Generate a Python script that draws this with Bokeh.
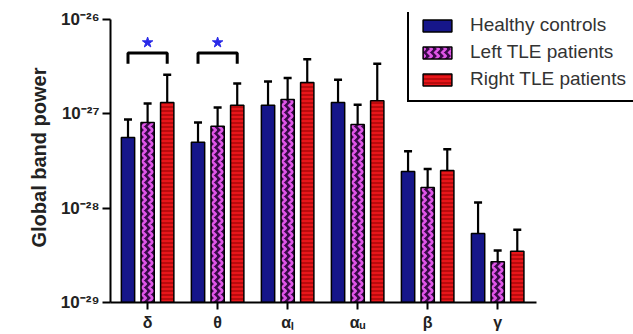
from bokeh.plotting import figure
from bokeh.models import (ColumnDataSource, Range1d, FixedTicker, Whisker, TeeHead,
                          Legend, LegendItem, CustomJSTickFormatter)
from bokeh.embed import file_html
from bokeh.resources import INLINE
from bokeh.core.properties import value

bands = ["δ", "θ", "αₗ", "αᵤ", "β", "γ"]
groups = ["Healthy controls", "Left TLE patients", "Right TLE patients"]
healthy = [5.6e-28, 5.0e-28, 1.23e-27, 1.32e-27, 2.45e-28, 5.4e-29]
healthy_err = [8.7e-28, 8.1e-28, 2.2e-27, 2.3e-27, 4.0e-28, 1.15e-28]
left_tle = [8.1e-28, 7.4e-28, 1.42e-27, 7.7e-28, 1.66e-28, 2.7e-29]
left_err = [1.29e-27, 1.17e-27, 2.4e-27, 1.25e-27, 2.6e-28, 3.55e-29]
right_tle = [1.32e-27, 1.23e-27, 2.15e-27, 1.38e-27, 2.5e-28, 3.5e-29]
right_err = [2.6e-27, 2.1e-27, 3.8e-27, 3.4e-27, 4.2e-28, 5.9e-29]
y_ticks = [1e-29, 1e-28, 1e-27, 1e-26]
y_tick_labels = ["10⁻²⁹", "10⁻²⁸", "10⁻²⁷", "10⁻²⁶"]
sig_bands = ["δ", "θ"]          # healthy vs right TLE significant
sig_level = 4.4e-27
sig_drop = 3.4e-27
sig_star = 5.7e-27

BASE = 1e-29
offsets = [-0.28, 0.0, 0.28]
bar_w = 0.19

p = figure(width=633, height=334, output_backend="svg", toolbar_location=None,
           y_axis_type="log", x_range=Range1d(-0.53, 6.94), y_range=Range1d(1e-29, 1.186e-26),
           min_border_left=110, min_border_right=0, min_border_top=12, min_border_bottom=32)
p.outline_line_color = None
p.xgrid.visible = False
p.ygrid.visible = False
p.background_fill_color = "white"

xs = list(range(len(bands)))
series = [(healthy, healthy_err), (left_tle, left_err), (right_tle, right_err)]
styles = [
    dict(fill_color="#16168a", hatch_pattern=None),
    dict(fill_color="#3a0a4a", hatch_pattern="vertical_wave", hatch_color="#e055e8",
         hatch_scale=7, hatch_weight=2.5),
    dict(fill_color="#e8161a", hatch_pattern="horizontal_line", hatch_color="#8a0000",
         hatch_scale=4, hatch_weight=1),
]
renderers = []
for (vals, errs), off, st in zip(series, offsets, styles):
    src = ColumnDataSource(dict(x=[i + off for i in xs], top=vals, err=errs,
                                bottom=[BASE] * len(vals)))
    kw = {k: v for k, v in st.items() if v is not None}
    r = p.vbar(x="x", top="top", bottom="bottom", width=bar_w, source=src,
               line_color="black", line_width=1.5, **kw)
    renderers.append(r)
    w = Whisker(base="x", lower="top", upper="err", source=src, dimension="height",
                line_color="black", line_width=2.2,
                upper_head=TeeHead(size=8, line_width=2.5, line_color="black"),
                lower_head=None)
    p.add_layout(w)

# significance brackets
bx, by = [], []
sx, sy = [], []
for b in sig_bands:
    i = bands.index(b)
    l, r_ = i + offsets[0], i + offsets[2]
    bx.append([l, l, r_, r_])
    by.append([sig_drop, sig_level, sig_level, sig_drop])
    sx.append(i)
    sy.append(sig_star)
p.multi_line(xs=bx, ys=by, line_color="black", line_width=3)
p.scatter(x=sx, y=sy, marker="star", size=11, fill_color="#2a2ae8", line_color="#2a2ae8")

# axes
p.xaxis.bounds = (-0.53, 5.56)
p.xaxis.ticker = FixedTicker(ticks=xs)
p.xaxis.major_label_overrides = {i: b for i, b in enumerate(bands)}
p.xaxis.minor_tick_line_color = None
p.xaxis.major_tick_in = 0
p.xaxis.major_tick_out = 7
p.xaxis.axis_line_width = 2
p.xaxis.major_tick_line_width = 2
p.xaxis.major_label_text_font = "Liberation Sans"
p.xaxis.major_label_text_font_style = "bold"
p.xaxis.major_label_text_font_size = "16px"
p.xaxis.major_label_text_color = "#222222"
p.xaxis.major_label_standoff = 4

p.yaxis.bounds = (1e-29, 1e-26)
p.yaxis.ticker = FixedTicker(ticks=y_ticks, minor_ticks=[])
p.yaxis.formatter = CustomJSTickFormatter(args=dict(tvals=y_ticks, tlabels=y_tick_labels), code="""
    let best = 0, bd = 1e9;
    for (let i = 0; i < tvals.length; i++) {
        const d = Math.abs(Math.log10(tvals[i]) - Math.log10(tick));
        if (d < bd) { bd = d; best = i; }
    }
    return tlabels[best];
""")
p.yaxis.minor_tick_line_color = None
p.yaxis.major_tick_in = 0
p.yaxis.major_tick_out = 8
p.yaxis.axis_line_width = 2
p.yaxis.major_tick_line_width = 2
p.yaxis.major_label_text_font = "Liberation Sans"
p.yaxis.major_label_text_font_style = "bold"
p.yaxis.major_label_text_font_size = "17px"
p.yaxis.major_label_text_color = "#222222"
p.yaxis.major_label_standoff = 3
p.yaxis.axis_label = "Global band power"
p.yaxis.axis_label_text_font = "Liberation Sans"
p.yaxis.axis_label_text_font_style = "bold"
p.yaxis.axis_label_text_font_size = "20px"
p.yaxis.axis_label_text_color = "#222222"
p.yaxis.axis_label_standoff = 8

legend = Legend(items=[LegendItem(label=g, renderers=[r]) for g, r in zip(groups, renderers)],
                location="top_left", orientation="vertical",
                border_line_color="black", border_line_width=2.5, border_line_alpha=1.0,
                background_fill_color="white", background_fill_alpha=1,
                label_text_font="Liberation Sans", label_text_font_size="19px",
                label_text_color="#333333", glyph_width=36, glyph_height=15,
                label_height=20, spacing=5, padding=10, margin=0, label_standoff=15)
legend.location = (297, 290 - 90)
p.add_layout(legend)

open("out.html", "w").write(file_html(p, INLINE))
